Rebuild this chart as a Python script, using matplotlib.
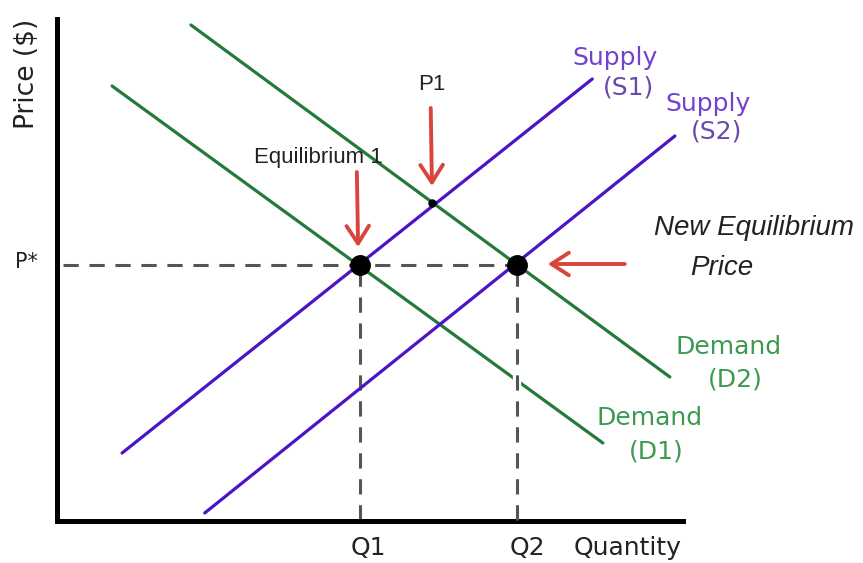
import matplotlib
matplotlib.use("Agg")
import matplotlib.pyplot as plt

# quantity / price units: axis corner at (0, 0), axes run to 10
demand1_q = [0.88, 8.72]
demand1_p = [8.70, 1.56]
demand2_q = [2.14, 9.79]
demand2_p = [9.92, 2.88]
supply1_q = [1.04, 8.55]
supply1_p = [1.36, 8.84]
supply2_q = [2.36, 9.87]
supply2_p = [0.16, 7.70]

p_star = 5.12
q1 = 4.84
q2 = 7.35
p1_point = (5.99, 6.36)

green = "#237a3b"
purple = "#4a14c8"
red = "#d9443c"
dash_gray = "#555555"
green_txt = "#3c9a50"
purple_txt = "#7440d0"
dark = "#222222"

fig = plt.figure(figsize=(8.63, 5.63), dpi=100)
ax = fig.add_axes([0, 0, 1, 1])
ax.set_xlim(-0.91, 12.875)
ax.set_ylim(-0.84, 10.42)
ax.axis("off")

# axes
ax.plot([0, 0, 10], [10.04, 0, 0], color="black", lw=3.6, solid_joinstyle="miter", zorder=2)

# dashed guides
ax.plot([0.1, q2], [p_star, p_star], color=dash_gray, lw=2.2, dashes=(5, 3.5), zorder=1)
ax.plot([q1, q1], [0.03, p_star], color=dash_gray, lw=2.2, dashes=(5, 3.5), zorder=1)
ax.plot([q2, q2], [2.6, 3.0], color="white", lw=6, zorder=3)
ax.plot([q2, q2], [0.03, p_star], color=dash_gray, lw=2.2, dashes=(5, 3.5), zorder=4)

# curves
ax.plot(demand1_q, demand1_p, color=green, lw=2.3, solid_capstyle="round", zorder=2)
ax.plot(demand2_q, demand2_p, color=green, lw=2.3, solid_capstyle="round", zorder=2)
ax.plot(supply1_q, supply1_p, color=purple, lw=2.3, solid_capstyle="round", zorder=2)
ax.plot(supply2_q, supply2_p, color=purple, lw=2.3, solid_capstyle="round", zorder=2)

# equilibrium points
ax.plot([q1, q2], [p_star, p_star], "o", color="black", ms=14, zorder=5)
ax.plot([p1_point[0]], [p1_point[1]], "o", color="black", ms=5, zorder=5)

# arrows
arrow_kw = dict(arrowstyle="->,head_length=0.7,head_width=0.45", color=red, lw=2.8,
                mutation_scale=18, shrinkA=0, shrinkB=0)
ax.annotate("", xy=(4.81, 5.48), xytext=(4.79, 6.98), arrowprops=arrow_kw, zorder=6)
ax.annotate("", xy=(5.99, 6.70), xytext=(5.97, 8.26), arrowprops=arrow_kw, zorder=6)
ax.annotate("", xy=(7.84, 5.14), xytext=(9.07, 5.14), arrowprops=arrow_kw, zorder=6)

# labels
ax.text(-0.48, 8.94, "Price ($)", rotation=90, ha="center", va="center",
        fontsize=19, color=dark, family="DejaVu Sans")
ax.text(-0.48, p_star + 0.06, "P*", ha="center", va="center", fontsize=15,
        color=dark, family="DejaVu Sans")
ax.text(4.17, 7.28, "Equilibrium 1", ha="center", va="center", fontsize=16,
        color=dark, family="Liberation Sans")
ax.text(5.99, 8.72, "P1", ha="center", va="center", fontsize=16,
        color=dark, family="Liberation Sans")

ax.text(8.91, 9.26, "Supply", ha="center", va="center", fontsize=18, color=purple_txt, family="DejaVu Sans")
ax.text(9.13, 8.66, "(S1)", ha="center", va="center", fontsize=18, color="#6a4aa8", family="DejaVu Sans")
ax.text(10.40, 8.34, "Supply", ha="center", va="center", fontsize=18, color=purple_txt, family="DejaVu Sans")
ax.text(10.53, 7.78, "(S2)", ha="center", va="center", fontsize=18, color="#6a4aa8", family="DejaVu Sans")

ax.text(11.13, 5.86, "New Equilibrium", ha="center", va="center", fontsize=20,
        style="italic", color=dark, family="Liberation Sans")
ax.text(10.62, 5.06, "Price", ha="center", va="center", fontsize=20,
        style="italic", color=dark, family="Liberation Sans")

ax.text(10.72, 3.48, "Demand", ha="center", va="center", fontsize=18, color=green_txt, family="DejaVu Sans")
ax.text(10.83, 2.82, "(D2)", ha="center", va="center", fontsize=18, color=green_txt, family="DejaVu Sans")
ax.text(9.46, 2.06, "Demand", ha="center", va="center", fontsize=18, color=green_txt, family="DejaVu Sans")
ax.text(9.57, 1.40, "(D1)", ha="center", va="center", fontsize=18, color=green_txt, family="DejaVu Sans")

ax.text(4.97, -0.54, "Q1", ha="center", va="center", fontsize=18, color=dark, family="DejaVu Sans")
ax.text(7.52, -0.54, "Q2", ha="center", va="center", fontsize=18, color=dark, family="DejaVu Sans")
ax.text(9.11, -0.54, "Quantity", ha="center", va="center", fontsize=18, color=dark, family="DejaVu Sans")

fig.savefig("out.png", dpi=100, facecolor="white")
